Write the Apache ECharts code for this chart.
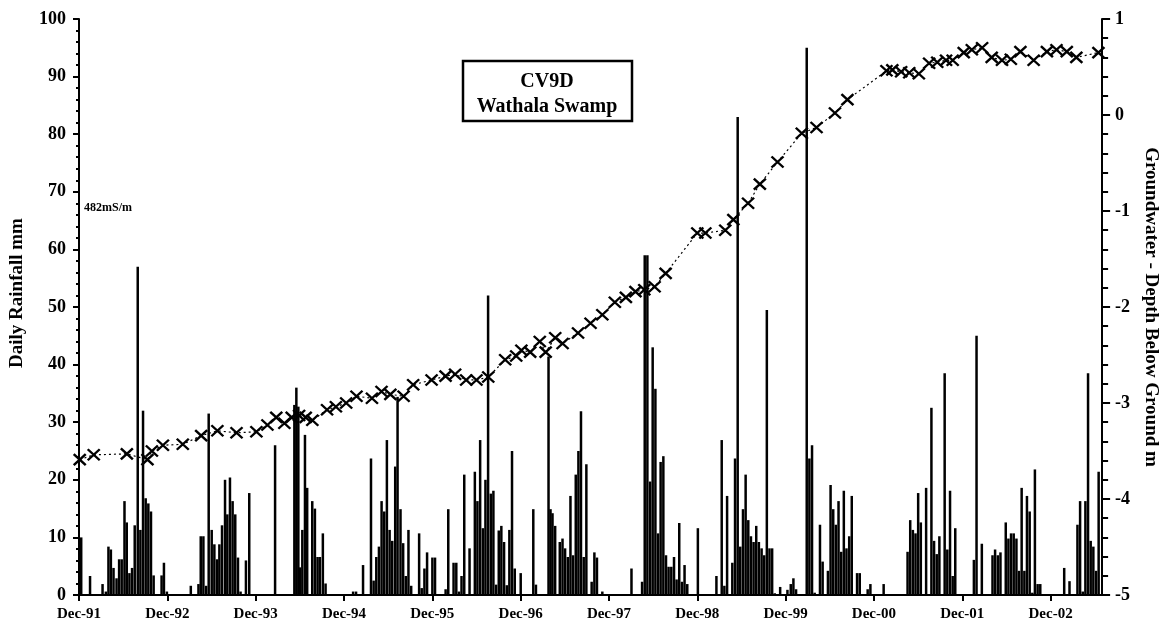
<!DOCTYPE html>
<html><head><meta charset="utf-8">
<script src="https://cdn.jsdelivr.net/npm/echarts@6/dist/echarts.min.js"></script>
<style>html,body{margin:0;padding:0;background:#fff}#c{width:1168px;height:624px}</style>
</head><body><div id="c"></div>
<script>
// x values are months since Dec-1991
const xTickLabels = ['Dec-91','Dec-92','Dec-93','Dec-94','Dec-95','Dec-96','Dec-97','Dec-98','Dec-99','Dec-00','Dec-01','Dec-02'];

const gwMonths = [0.1,2.0,6.5,9.3,9.9,11.4,14.1,16.6,18.8,21.4,24.1,25.6,26.8,27.9,28.9,29.9,30.8,31.7,33.7,34.9,
  36.3,37.7,39.8,41.1,42.3,44.1,45.4,47.9,49.8,51.1,52.6,54.0,55.6,57.9,59.4,60.1,61.3,62.6,63.4,64.7,
  65.7,67.8,69.5,71.1,72.8,74.3,75.6,76.8,78.2,79.7,84.0,85.1,87.8,88.9,90.9,92.5,94.9,98.2,100.2,102.7,
  104.4,109.7,110.5,111.7,112.8,114.1,115.5,116.6,117.8,118.7,120.2,121.3,122.7,124.0,125.4,126.6,127.9,129.7,131.5,132.8,
  134.2,135.5,138.5];
const gwDepth = [-3.59,-3.54,-3.53,-3.59,-3.50,-3.44,-3.43,-3.34,-3.29,-3.31,-3.30,-3.23,-3.15,-3.21,-3.15,-3.13,-3.15,-3.18,-3.07,-3.04,
  -3.00,-2.93,-2.95,-2.88,-2.91,-2.93,-2.81,-2.76,-2.72,-2.70,-2.76,-2.76,-2.73,-2.55,-2.51,-2.45,-2.47,-2.36,-2.47,-2.32,
  -2.38,-2.27,-2.17,-2.08,-1.95,-1.90,-1.84,-1.82,-1.79,-1.65,-1.23,-1.23,-1.20,-1.09,-0.92,-0.72,-0.49,-0.19,-0.13,0.02,
  0.16,0.46,0.47,0.45,0.44,0.43,0.54,0.55,0.57,0.57,0.65,0.68,0.70,0.60,0.57,0.58,0.66,0.57,0.66,0.68,
  0.66,0.60,0.65];

const rainMonths = [0.3,1.5,3.2,3.65,4.0,4.33,4.69,5.1,5.45,5.8,6.18,6.49,6.85,7.21,7.57,7.98,8.34,8.7,9.06,9.42,9.78,10.14,11.22,11.54,11.94,
  15.19,16.23,16.54,16.9,17.27,17.62,18.03,18.39,18.76,19.07,19.43,19.84,20.15,20.51,20.87,21.23,21.6,21.95,22.68,23.13,
  26.64,29.26,29.53,29.8,30.02,30.34,30.7,31.0,31.69,32.05,32.41,32.73,33.13,33.5,37.24,37.64,38.59,39.67,40.03,40.39,40.75,41.11,41.47,41.83,42.2,42.56,42.96,43.28,
  43.68,44.04,44.4,44.76,45.13,46.21,46.56,46.93,47.29,48.01,48.37,49.81,50.17,50.89,51.26,51.62,51.97,52.34,53.06,53.78,54.13,54.5,54.87,55.22,55.58,55.95,56.3,56.67,57.03,57.38,57.75,58.12,58.47,58.83,59.2,60.01,
  61.72,62.08,63.79,64.06,64.33,64.69,65.32,65.69,66.04,66.41,66.77,67.12,67.49,67.85,68.2,68.57,68.93,69.65,70.02,70.37,71.1,75.06,
  76.5,76.86,77.22,77.59,77.94,78.31,78.67,79.02,79.39,79.75,80.1,80.47,80.84,81.19,81.55,81.92,82.27,82.64,84.08,
  86.6,87.32,87.68,88.05,88.76,89.13,89.49,89.84,90.21,90.57,90.93,91.29,91.65,92.01,92.37,92.74,93.09,93.45,93.81,94.17,94.53,
  95.26,96.25,96.7,97.06,97.42,98.87,99.23,99.59,99.95,100.67,101.03,101.75,102.11,102.47,102.83,103.19,103.55,103.91,104.27,104.64,104.99,105.71,106.07,107.15,107.52,109.32,
  112.57,112.93,113.29,113.65,114.01,114.37,115.09,115.81,116.17,116.53,116.89,117.61,117.97,118.34,118.7,119.05,121.58,121.94,122.66,
  124.11,124.46,124.83,125.19,125.91,126.27,126.63,126.99,127.36,127.71,128.07,128.44,128.79,129.16,129.52,129.87,130.24,130.6,
  133.85,134.57,135.65,136.01,136.37,136.73,137.09,137.45,137.81,138.18,138.53];
const rainMm = [10,3.3,1.9,0.6,8.4,7.9,4.7,2.9,6.2,6.2,16.3,12.6,3.8,4.7,12.1,57,11.3,32,16.8,15.9,14.5,3.4,3.4,5.6,0.6,
  1.6,1.9,10.2,10.2,1.6,31.5,11.3,8.8,6.2,8.8,12.1,20,14,20.4,16.3,14,6.5,0.6,6,17.7,
  26,33,36,32.7,4.8,11.3,27.8,18.6,16.3,15,6.6,6.6,10.7,2,0.6,0.6,5.2,23.7,2.5,6.6,8.4,16.3,14.5,26.9,11.3,9.4,22.3,34.4,
  14.9,9,3.3,11.3,1.6,10.7,1.2,4.6,7.4,6.5,6.5,1,14.9,5.6,5.6,0.6,3.3,20.9,8.1,21.4,16.3,26.9,11.6,20,52,17.6,18.1,1.8,11.2,12,9.2,1.7,11.3,25,4.6,3.8,
  14.9,1.8,41.4,14.9,14.2,12,9.2,9.8,8.1,6.6,17.2,6.9,20.9,25,31.9,6.6,22.7,2.3,7.4,6.5,0.6,4.6,
  2.3,59,59,19.7,43,35.8,10.7,23.1,24.1,6.9,4.9,4.9,6.6,2.7,12.5,2.3,5.2,1.9,11.6,
  3.3,26.9,1.6,17.2,5.6,23.7,83,8.4,14.9,20.9,13,10.2,9.2,12,9.2,8.1,6.9,49.5,8.1,8.1,0.3,
  1.4,0.9,1.9,2.9,1,95,23.7,26,0.4,12.2,5.8,4.2,19.1,14.9,12.2,16.3,7.5,18.1,8.1,10.2,17.2,3.8,3.8,1,1.9,1.9,
  7.5,13,11.3,10.7,17.7,12.6,18.6,32.5,9.4,7.1,10.2,38.5,7.9,18.1,3.3,11.6,6.1,45,8.9,
  6.9,7.9,6.9,7.4,12.6,9.8,10.7,10.7,9.8,4.2,18.6,4.2,17.2,14.5,0.4,21.8,1.9,1.9,
  4.7,2.4,12.2,16.3,0.6,16.3,38.5,9.4,8.4,4.2,21.4];

const FONT = 'Liberation Serif';
const chart = echarts.init(document.getElementById('c'), null, {renderer: 'canvas'});
const rainData = rainMonths.map((m, i) => [m, rainMm[i]]);
const gwData = gwMonths.map((m, i) => [m, gwDepth[i]]);

chart.setOption({
  animation: false,
  backgroundColor: '#fff',
  grid: {left: 79, right: 61, top: 19, bottom: 29, containLabel: false},
  xAxis: {
    type: 'value', min: 0, max: 139, interval: 12,
    axisLine: {show: true, onZero: false, lineStyle: {color: '#000', width: 2}},
    axisTick: {show: true, length: 6, lineStyle: {color: '#000', width: 2}},
    splitLine: {show: false},
    axisLabel: {
      color: '#000', fontFamily: FONT, fontWeight: 'bold', fontSize: 15, margin: 12,
      showMaxLabel: false,
      formatter: v => (v % 12 === 0 ? (xTickLabels[v / 12] || '') : '')
    }
  },
  yAxis: [{
    type: 'value', min: 0, max: 100, interval: 10, position: 'left',
    name: 'Daily Rainfall mm', nameLocation: 'middle', nameGap: 52, nameRotate: 90,
    nameTextStyle: {color: '#000', fontFamily: FONT, fontWeight: 'bold', fontSize: 19, padding: [0, 0, 0, 28]},
    axisLine: {show: true, lineStyle: {color: '#000', width: 2}},
    axisTick: {show: true, length: 6, lineStyle: {color: '#000', width: 2}},
    minorTick: {show: true, splitNumber: 5, length: 3, lineStyle: {color: '#000', width: 2}},
    splitLine: {show: false},
    axisLabel: {color: '#000', fontFamily: FONT, fontWeight: 'bold', fontSize: 18, margin: 13}
  }, {
    type: 'value', min: -5, max: 1, interval: 1, position: 'right',
    name: 'Groundwater - Depth Below Ground m', nameLocation: 'middle', nameGap: 33, nameRotate: -90,
    nameTextStyle: {color: '#000', fontFamily: FONT, fontWeight: 'bold', fontSize: 19},
    axisLine: {show: true, lineStyle: {color: '#000', width: 2}},
    axisTick: {show: true, length: 8, lineStyle: {color: '#000', width: 2}},
    minorTick: {show: true, splitNumber: 5, length: 6, lineStyle: {color: '#000', width: 2}},
    splitLine: {show: false},
    axisLabel: {color: '#000', fontFamily: FONT, fontWeight: 'bold', fontSize: 18, margin: 13}
  }],
  graphic: [
    {type: 'rect', shape: {x: 463, y: 61, width: 169, height: 60},
     style: {fill: '#fff', stroke: '#000', lineWidth: 2.5}, z: 100},
    {type: 'text', x: 547, y: 82, z: 101,
     style: {text: 'CV9D', font: 'bold 20px "Liberation Serif"', fill: '#000', align: 'center', verticalAlign: 'middle'}},
    {type: 'text', x: 547, y: 107, z: 101,
     style: {text: 'Wathala Swamp', font: 'bold 20px "Liberation Serif"', fill: '#000', align: 'center', verticalAlign: 'middle'}},
    {type: 'text', x: 84, y: 208, z: 101,
     style: {text: '482mS/m', font: 'bold 12px "Liberation Serif"', fill: '#000', align: 'left', verticalAlign: 'middle'}}
  ],
  series: [{
    name: 'Daily Rainfall', type: 'bar', xAxisIndex: 0, yAxisIndex: 0,
    data: rainData, barWidth: 2.5, itemStyle: {color: '#000'}, z: 2
  }, {
    name: 'Groundwater', type: 'line', xAxisIndex: 0, yAxisIndex: 1,
    data: gwData,
    symbol: 'path://M0,0L10,10M10,0L0,10', symbolSize: [12, 11],
    itemStyle: {color: 'rgba(0,0,0,0)', borderColor: '#000', borderWidth: 2.3},
    lineStyle: {color: '#000', width: 1.2, type: [2, 3]},
    z: 3
  }]
});
</script>
</body></html>
